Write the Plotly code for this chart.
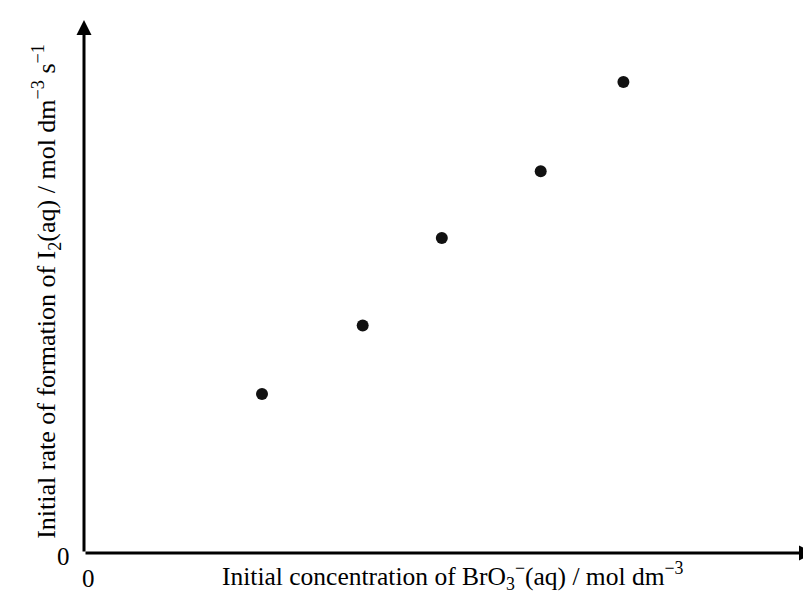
import plotly.graph_objects as go

# Data (arbitrary units; axes have no numeric scale)
conc_bro3 = [0.99, 1.55, 1.99, 2.54, 3.00]
rate_i2 = [1.00, 1.43, 1.98, 2.40, 2.96]
x_max = 4.06
y_max = 3.35
x_title = "Initial concentration of BrO<sub>3</sub><sup>−</sup>(aq) / mol dm<sup>−3</sup>"
y_title = "Initial rate of formation of I<sub>2</sub>(aq) / mol dm<sup>−3</sup> s<sup>−1</sup>"
origin_label = "0"

FONT = "Liberation Serif, Times New Roman, serif"

fig = go.Figure()
fig.add_trace(go.Scatter(
    x=conc_bro3, y=rate_i2, mode="markers",
    marker=dict(size=12, color="#111111", line=dict(width=0)),
    showlegend=False, hoverinfo="skip",
))

fig.update_layout(
    width=811, height=593,
    margin=dict(l=76, r=5, t=12, b=48),
    paper_bgcolor="white", plot_bgcolor="white",
    xaxis=dict(range=[0, x_max], visible=False, fixedrange=True),
    yaxis=dict(range=[0, y_max], visible=False, fixedrange=True),
    font=dict(family=FONT, color="black"),
)

# Axes with arrowheads
fig.add_annotation(x=x_max, y=0, ax=0, ay=0, xref="x", yref="y", axref="x", ayref="y",
                   showarrow=True, arrowhead=2, arrowsize=1, arrowwidth=3, arrowcolor="black", text="")
fig.add_annotation(x=0, y=y_max, ax=0, ay=0, xref="x", yref="y", axref="x", ayref="y",
                   showarrow=True, arrowhead=2, arrowsize=1, arrowwidth=3, arrowcolor="black", text="")

# Origin labels
fig.add_annotation(x=0, y=0, xref="x", yref="y", text=origin_label, showarrow=False,
                   xanchor="right", yanchor="middle", xshift=-12, yshift=-3, font=dict(size=25))
fig.add_annotation(x=0, y=0, xref="x", yref="y", text=origin_label, showarrow=False,
                   xanchor="center", yanchor="middle", xshift=4, yshift=-25, font=dict(size=25))

# Axis titles
fig.add_annotation(x=0.505, y=-48 / 533, xref="paper", yref="paper", text=x_title, showarrow=False,
                   xanchor="center", yanchor="bottom", yshift=5, font=dict(size=25.5))
fig.add_annotation(x=0, y=0.49, xref="paper", yref="paper", text=y_title, showarrow=False,
                   textangle=-90, xanchor="center", yanchor="middle", xshift=-38, font=dict(size=26))

fig.write_html("out.html")
